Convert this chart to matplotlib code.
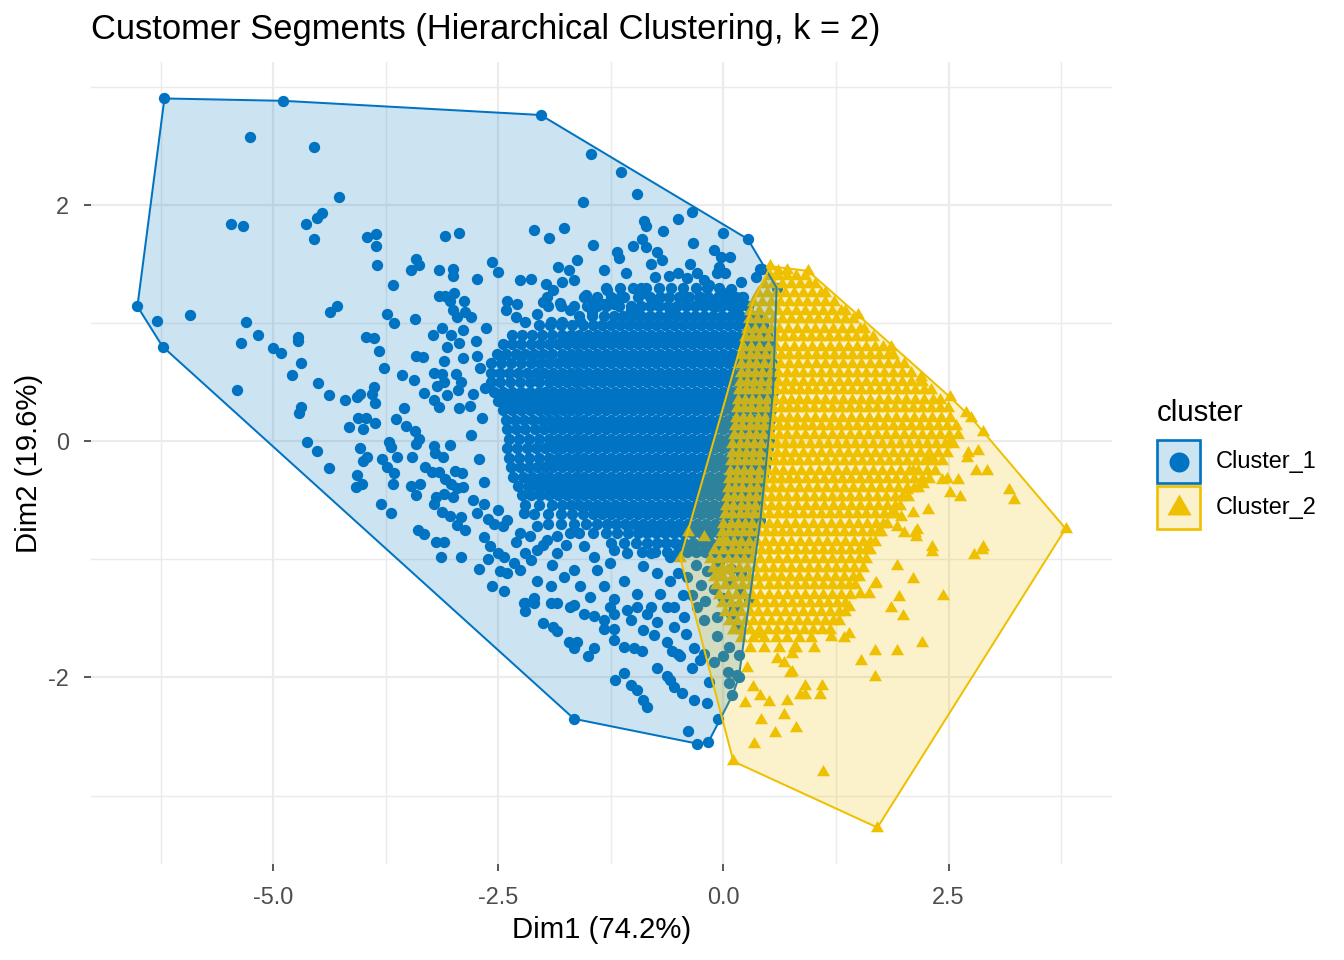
import matplotlib
matplotlib.use("Agg")
import matplotlib.pyplot as plt
from matplotlib.patches import Polygon, Rectangle
from matplotlib.lines import Line2D
from matplotlib.colors import to_rgba

plt.rcParams["font.family"] = ["Liberation Sans", "DejaVu Sans"]

title = "Customer Segments (Hierarchical Clustering, k = 2)"
xlab = "Dim1 (74.2%)"
ylab = "Dim2 (19.6%)"
cluster_names = ["Cluster_1", "Cluster_2"]
colors = ["#0073C2", "#EFC000"]

x_ticks = [-5.0, -2.5, 0.0, 2.5]
x_ticklabels = ["-5.0", "-2.5", "0.0", "2.5"]
y_ticks = [-2, 0, 2]
y_ticklabels = ["-2", "0", "2"]

# cluster 1: single points (x, y)
c1_pts = [
    (-6.21, 2.90), (-4.89, 2.88), (-2.03, 2.76), (0.27, 1.71), (0.43, 1.46), (0.59, 1.30),
    (0.41, -0.67), (0.28, -1.34), (0.17, -2.00), (0.10, -2.15), (-0.06, -2.35), (-0.17, -2.55),
    (-0.29, -2.56), (-1.66, -2.35), (-6.23, 0.80), (-6.51, 1.14),
    # upper left
    (-5.26, 2.57), (-4.55, 2.49), (-4.27, 2.07), (-5.47, 1.84), (-5.34, 1.82), (-4.64, 1.84),
    (-4.52, 1.89), (-4.46, 1.93), (-4.55, 1.71), (-3.96, 1.73), (-3.86, 1.75), (-3.86, 1.65),
    (-3.85, 1.49), (-3.67, 1.32), (-3.41, 1.54), (-3.47, 1.45), (-3.38, 1.49), (-3.09, 1.74),
    (-2.94, 1.76), (-3.16, 1.45), (-3.00, 1.46), (-3.00, 1.40), (-6.29, 1.02), (-5.93, 1.07),
    (-5.30, 1.01), (-5.17, 0.90), (-5.36, 0.83), (-5.00, 0.79), (-4.91, 0.75), (-4.73, 0.88),
    (-4.73, 0.85), (-4.37, 1.09), (-4.29, 1.14), (-3.74, 1.08), (-3.66, 1.00), (-3.43, 1.03),
    (-3.97, 0.88), (-3.88, 0.87), (-3.83, 0.76), (-3.16, 1.23), (-3.09, 1.23), (-2.99, 1.25),
    (-3.04, 1.19), (-2.88, 1.19), (-3.01, 1.11), (-2.96, 1.05), (-2.87, 1.09), (-2.89, 0.94),
    (-3.13, 0.96), (-3.23, 0.90), (-3.03, 0.90), (-3.07, 0.80), (-2.94, 0.83), (-3.42, 0.72),
    (-3.34, 0.71),
    # middle left
    (-5.40, 0.43), (-4.69, 0.66), (-4.79, 0.56), (-4.50, 0.49), (-4.38, 0.39), (-4.69, 0.29),
    (-4.71, 0.24), (-4.20, 0.35), (-4.07, 0.37), (-4.04, 0.40), (-3.90, 0.40), (-3.88, 0.46),
    (-3.87, 0.32), (-3.77, 0.62), (-4.16, 0.12), (-4.06, 0.20), (-3.97, 0.20), (-4.00, 0.10),
    (-3.87, 0.15), (-4.63, -0.01), (-4.51, -0.08), (-4.38, -0.23), (-4.04, -0.06), (-3.96, -0.13),
    (-4.00, -0.17), (-4.07, -0.29), (-4.01, -0.36), (-4.08, -0.39), (-3.80, -0.53), (-3.69, -0.61),
    (-3.79, -0.15), (-3.74, -0.22), (-3.66, -0.27), (-3.67, -0.36), (-3.63, -0.13), (-3.72, -0.01),
    (-3.69, -0.05), (-3.64, 0.19), (-3.55, 0.28), (-3.53, 0.13), (-3.43, 0.09), (-3.57, 0.56),
    (-3.44, 0.52), (-3.33, 0.41), (-3.22, 0.58), (-3.13, 0.57), (-3.18, 0.47), (-3.10, 0.50),
    (-3.22, 0.35), (-3.16, 0.29), (-3.07, 0.39), (-3.10, 0.68), (-2.97, 0.57), (-2.92, 0.50),
    (-2.95, 0.43), (-2.94, 0.28), (-2.89, 0.70), (-3.38, 0.02), (-3.41, -0.02), (-3.46, -0.13),
    (-3.22, -0.04), (-3.20, -0.10), (-3.12, -0.13), (-3.04, -0.03), (-3.32, -0.22), (-3.24, -0.26),
    (-3.16, -0.26), (-3.09, -0.32), (-3.03, -0.36), (-2.96, -0.40), (-2.89, -0.39), (-2.98, -0.25),
    (-2.90, -0.27), (-3.47, -0.38), (-3.37, -0.36), (-3.42, -0.46), (-3.19, -0.47), (-3.11, -0.45),
    (-3.00, -0.47), (-3.22, -0.53), (-3.13, -0.60), (-3.04, -0.63), (-2.92, -0.64), (-2.96, -0.71),
    (-2.87, -0.75), (-3.39, -0.75), (-3.33, -0.79), (-3.19, -0.85), (-3.11, -0.85), (-3.14, -0.98),
    (-2.92, -0.98), (-2.75, 0.85), (-2.70, 0.62), (-2.78, 0.40), (-2.68, 0.20), (-2.80, 0.05),
    (-2.72, -0.15), (-2.66, -0.35), (-2.78, -0.50), (-2.62, -0.66), (-2.74, 0.72), (-2.82, 0.30),
    (-2.65, 0.45),
    # upper middle
    (-1.47, 2.43), (-1.14, 2.28), (-0.96, 2.09), (-1.56, 2.02), (-2.11, 1.79), (-1.94, 1.72),
    (-1.77, 1.80), (-1.45, 1.66), (-0.88, 1.86), (-0.86, 1.82), (-0.67, 1.78), (-0.50, 1.88),
    (-0.35, 1.94), (0.00, 1.76), (-0.34, 1.68), (-0.11, 1.62), (0.07, 1.56), (-0.03, 1.56),
    (-1.01, 1.65), (-0.90, 1.71), (-0.86, 1.64), (-1.18, 1.60), (-1.16, 1.55), (-0.74, 1.60),
    (-0.68, 1.53), (-1.63, 1.53), (-0.80, 1.50), (-0.37, 1.50), (-1.33, 1.45), (-1.08, 1.42),
    (-0.76, 1.39), (-0.61, 1.40), (-0.51, 1.42), (-0.41, 1.38), (-0.29, 1.42), (-0.22, 1.36),
    (-0.16, 1.32), (-0.05, 1.47), (-0.07, 1.42), (0.02, 1.42), (0.19, 1.35), (0.36, 1.39),
    (0.41, 1.46), (-2.57, 1.52), (-2.50, 1.43), (-2.74, 1.37), (-2.26, 1.36), (-2.14, 1.37),
    (-1.84, 1.47), (-1.72, 1.45), (-1.66, 1.36), (-1.97, 1.33), (-1.79, 1.35), (-1.89, 1.28),
    (-1.96, 1.22), (-2.00, 1.18), (-1.82, 1.17), (-2.29, 1.16), (-2.40, 1.19), (-2.42, 1.11),
    (-2.31, 1.05), (-2.07, 1.08), (-1.70, 1.11), (-1.53, 1.24), (-1.46, 1.17), (-1.29, 1.28),
    (-1.14, 1.23), (-1.33, 1.16), (-1.22, 1.16), (-1.46, 1.09), (-1.92, 1.01), (-1.79, 1.01),
    (-1.59, 1.02), (-2.20, 1.01), (-2.64, 0.96), (-2.81, 1.05), (-0.92, 1.30), (-0.89, 1.25),
    (-0.79, 1.19), (-1.03, 1.11), (-0.96, 1.11), (-0.59, 1.11), (-0.44, 1.22), (-0.26, 1.22),
    (-0.14, 1.19), (0.00, 1.25), (0.08, 1.29), (0.21, 1.22), (0.15, 1.11), (-0.07, 1.14),
    # lower middle
    (-2.72, -1.08), (-2.57, -1.23), (-2.44, -1.27), (-2.20, -1.37), (-2.11, -1.33), (-2.66, -0.81),
    (-2.59, -0.89), (-2.44, -0.98), (-2.33, -1.03), (-2.26, -1.09), (-2.40, -1.12), (-2.07, -1.18),
    (-1.92, -1.23), (-1.77, -1.15), (-1.66, -1.09), (-1.59, -1.23), (-1.48, -1.32), (-1.33, -1.23),
    (-1.22, -1.34), (-1.11, -1.18), (-0.96, -1.29), (-0.81, -1.40), (-0.70, -1.29), (-0.59, -1.18),
    (-0.55, -1.40), (-1.70, -1.40), (-1.85, -1.37), (-2.74, -0.61), (-2.66, -0.53), (-2.51, -0.58),
    (-2.40, -0.67), (-2.22, -0.61), (-2.07, -0.72), (-2.26, -0.78), (-1.96, -0.84), (-1.85, -0.95),
    (-1.70, -0.78), (-2.07, -0.92), (-2.14, -1.01), (-1.55, -0.89), (-1.44, -0.98), (-1.40, -1.09),
    (-1.26, -1.03), (-1.22, -0.92), (-1.07, -0.95), (-0.89, -1.06), (-0.81, -0.95), (-0.74, -1.12),
    (-0.59, -0.98), (-0.51, -1.12), (-0.40, -0.92), (-0.30, -1.05), (-0.18, -1.10), (-0.05, -1.02),
    (0.08, -1.08), (0.20, -1.12), (-0.25, -1.22), (-0.10, -1.25), (0.05, -1.20), (0.18, -1.28),
    (-0.35, -1.30), (-0.20, -1.35), (0.00, -1.33), (0.12, -1.40), (-0.40, -1.15), (-0.45, -1.30),
    (-2.45, -0.72), (-2.30, -0.85), (-2.15, -0.80), (-2.00, -0.88), (-1.85, -0.80), (-2.50, -0.95),
    (-1.75, -0.88), (-1.90, -1.05), (-2.20, -0.95), (-2.55, -0.70), (-2.62, -1.00), (-2.48, -1.10),
    # bottom
    (-0.39, -2.45), (0.06, -2.05), (0.15, -1.98), (0.05, -1.95), (0.00, -1.82), (0.17, -1.81),
    (-0.07, -1.65), (0.06, -1.74), (-0.11, -1.87), (-0.16, -2.04), (-0.18, -2.22), (-0.33, -2.19),
    (-0.46, -2.13), (-0.59, -2.02), (-0.55, -2.08), (-0.63, -1.99), (-0.74, -1.92), (-0.89, -2.19),
    (-0.85, -2.25), (-0.96, -2.11), (-1.03, -2.06), (-1.11, -1.96), (-1.21, -2.02), (-0.35, -1.92),
    (-0.26, -1.85), (-0.22, -1.80), (-0.33, -1.75), (-0.51, -1.80), (-0.48, -1.82), (-0.57, -1.78),
    (-0.63, -1.70), (-0.90, -1.78), (-0.99, -1.75), (-1.11, -1.74), (-1.22, -1.68), (-1.22, -1.59),
    (-1.51, -1.82), (-1.44, -1.75), (-1.66, -1.75), (-1.63, -1.70), (-1.72, -1.70), (-1.85, -1.61),
    (-1.89, -1.57), (-2.01, -1.54), (-2.20, -1.44), (-2.11, -1.37), (-1.92, -1.37), (-1.66, -1.39),
    (-1.55, -1.46), (-1.44, -1.48), (-1.33, -1.51), (-1.33, -1.59), (-1.22, -1.46), (-1.26, -1.40),
    (-1.07, -1.43), (-0.96, -1.40), (-1.03, -1.51), (-0.85, -1.46), (-0.89, -1.60), (-0.77, -1.64),
    (-0.74, -1.53), (-0.63, -1.40), (-0.55, -1.57), (-0.44, -1.49), (-0.42, -1.63), (-0.29, -1.40),
    (-0.22, -1.51), (-0.07, -1.49), (0.08, -1.46), (0.15, -1.57), (-2.22, -1.37),
]

# cluster 1: dense core, one row per y value
c1_rows = [
    (1.30, [-1.30, -1.15, -1.00, -0.86, -0.72, -0.58, -0.45, -0.31, -0.18, -0.05]),
    (1.22, [-1.55, -1.40, -1.25, -1.10, -0.95, -0.82, -0.70, -0.60, -0.49, -0.38, -0.27, -0.17,
            -0.06, 0.04, 0.14, 0.22]),
    (1.14, [-1.95, -1.80, -1.66, -1.52, -1.41, -1.30, -1.16, -1.03, -0.92, -0.82, -0.72, -0.62,
            -0.52, -0.42, -0.32, -0.22, -0.12, -0.02, 0.08, 0.18, 0.27]),
    (1.06, [-1.60, -1.46, -1.33, -1.22, -1.12, -1.02, -0.92, -0.82, -0.72, -0.62, -0.52, -0.42,
            -0.32, -0.22, -0.12, -0.02, 0.08, 0.18, 0.28, 0.37]),
    (0.98, [-2.05, -1.93, -1.81, -1.68, -1.56, -1.45, -1.35, -1.25, -1.15, -1.05, -0.95, -0.85,
            -0.75, -0.65, -0.55, -0.45, -0.35, -0.25, -0.15, -0.05, 0.05, 0.15, 0.25, 0.35, 0.44]),
    (0.90, [-2.35, -2.24, -2.13, -2.02, -1.91, -1.79, -1.69, -1.60, -1.50, -1.40, -1.30, -1.20,
            -1.10, -1.00, -0.90, -0.80, -0.70, -0.60, -0.50, -0.40, -0.30, -0.20, -0.10, 0.00,
            0.10, 0.20, 0.30, 0.40, 0.48]),
    (0.82, [-2.45, -2.35, -2.25, -2.14, -2.04, -1.94, -1.84, -1.74, -1.64, -1.55, -1.45, -1.35,
            -1.25, -1.15, -1.05, -0.95, -0.85, -0.75, -0.65, -0.55, -0.45, -0.35, -0.25, -0.15,
            -0.05, 0.05, 0.15, 0.25, 0.35, 0.44, 0.51]),
    (0.74, [-2.52, -2.42, -2.31, -2.20, -2.10, -2.00, -1.90, -1.79, -1.69, -1.60, -1.50, -1.40,
            -1.30, -1.20, -1.10, -1.00, -0.90, -0.80, -0.70, -0.60, -0.50, -0.40, -0.30, -0.20,
            -0.10, 0.00, 0.10, 0.20, 0.30, 0.40, 0.48, 0.53]),
    (0.66, [-2.58, -2.47, -2.36, -2.25, -2.14, -2.04, -1.94, -1.84, -1.74, -1.64, -1.55, -1.45,
            -1.35, -1.25, -1.15, -1.05, -0.95, -0.85, -0.75, -0.65, -0.55, -0.45, -0.35, -0.25,
            -0.15, -0.05, 0.05, 0.15, 0.25, 0.35, 0.45, 0.54]),
    (0.58, [-2.58, -2.48, -2.38, -2.28, -2.18, -2.08, -1.99, -1.89, -1.79, -1.69, -1.60, -1.50,
            -1.40, -1.30, -1.20, -1.10, -1.00, -0.90, -0.80, -0.70, -0.60, -0.50, -0.40, -0.30,
            -0.20, -0.10, 0.00, 0.10, 0.20, 0.30, 0.40, 0.49, 0.55]),
    (0.50, [-2.58, -2.48, -2.37, -2.26, -2.15, -2.05, -1.94, -1.84, -1.74, -1.64, -1.55, -1.45,
            -1.35, -1.25, -1.15, -1.05, -0.95, -0.85, -0.75, -0.65, -0.55, -0.45, -0.35, -0.25,
            -0.15, -0.05, 0.05, 0.15, 0.25, 0.35, 0.45, 0.55]),
    (0.42, [-2.55, -2.45, -2.35, -2.25, -2.15, -2.05, -1.98, -1.89, -1.79, -1.69, -1.60, -1.50,
            -1.40, -1.30, -1.20, -1.10, -1.00, -0.90, -0.80, -0.70, -0.60, -0.50, -0.40, -0.30,
            -0.20, -0.10, 0.00, 0.10, 0.20, 0.30, 0.40, 0.49, 0.55]),
    (0.34, [-2.50, -2.40, -2.30, -2.20, -2.10, -2.01, -1.93, -1.84, -1.74, -1.64, -1.55, -1.45,
            -1.35, -1.25, -1.15, -1.05, -0.95, -0.85, -0.75, -0.65, -0.55, -0.45, -0.35, -0.25,
            -0.15, -0.05, 0.05, 0.15, 0.25, 0.35, 0.45, 0.54]),
    (0.26, [-2.45, -2.35, -2.25, -2.15, -2.05, -1.96, -1.87, -1.78, -1.69, -1.60, -1.50, -1.40,
            -1.30, -1.20, -1.10, -1.00, -0.90, -0.80, -0.70, -0.60, -0.50, -0.40, -0.30, -0.20,
            -0.10, 0.00, 0.10, 0.20, 0.30, 0.40, 0.48, 0.53]),
    (0.18, [-2.42, -2.32, -2.22, -2.12, -2.02, -1.93, -1.84, -1.74, -1.64, -1.55, -1.45, -1.35,
            -1.25, -1.15, -1.05, -0.95, -0.85, -0.75, -0.65, -0.55, -0.45, -0.35, -0.25, -0.15,
            -0.05, 0.05, 0.15, 0.25, 0.35, 0.44, 0.52]),
    (0.10, [-2.40, -2.30, -2.20, -2.09, -1.99, -1.89, -1.79, -1.69, -1.60, -1.50, -1.40, -1.30,
            -1.20, -1.10, -1.00, -0.90, -0.80, -0.70, -0.60, -0.50, -0.40, -0.30, -0.20, -0.10,
            0.00, 0.10, 0.20, 0.30, 0.40, 0.48, 0.51]),
    (0.02, [-2.38, -2.27, -2.16, -2.05, -1.94, -1.84, -1.74, -1.64, -1.55, -1.45, -1.35, -1.25,
            -1.15, -1.05, -0.95, -0.85, -0.75, -0.65, -0.55, -0.45, -0.35, -0.25, -0.15, -0.05,
            0.05, 0.15, 0.25, 0.35, 0.44, 0.50]),
    (-0.06, [-2.40, -2.29, -2.18, -2.08, -1.98, -1.88, -1.79, -1.69, -1.60, -1.50, -1.40, -1.30,
             -1.20, -1.10, -1.00, -0.90, -0.80, -0.70, -0.60, -0.50, -0.40, -0.30, -0.20, -0.10,
             0.00, 0.10, 0.20, 0.30, 0.40, 0.49]),
    (-0.14, [-2.38, -2.27, -2.16, -2.05, -1.94, -1.84, -1.74, -1.64, -1.55, -1.45, -1.35, -1.25,
             -1.15, -1.05, -0.95, -0.85, -0.75, -0.65, -0.55, -0.45, -0.35, -0.25, -0.15, -0.05,
             0.05, 0.15, 0.25, 0.35, 0.43, 0.47]),
    (-0.22, [-2.36, -2.26, -2.16, -2.07, -1.98, -1.89, -1.79, -1.69, -1.60, -1.50, -1.40, -1.30,
             -1.20, -1.10, -1.00, -0.90, -0.80, -0.70, -0.60, -0.50, -0.40, -0.30, -0.20, -0.10,
             0.00, 0.10, 0.20, 0.30, 0.39, 0.46]),
    (-0.30, [-2.34, -2.23, -2.13, -2.03, -1.94, -1.84, -1.74, -1.64, -1.55, -1.45, -1.35, -1.25,
             -1.15, -1.05, -0.95, -0.85, -0.75, -0.65, -0.55, -0.45, -0.35, -0.25, -0.15, -0.05,
             0.05, 0.15, 0.25, 0.35, 0.44]),
    (-0.38, [-2.28, -2.17, -2.07, -1.97, -1.88, -1.79, -1.69, -1.60, -1.50, -1.40, -1.30, -1.20,
             -1.10, -1.00, -0.90, -0.80, -0.70, -0.60, -0.50, -0.40, -0.30, -0.20, -0.10, 0.00,
             0.10, 0.20, 0.30, 0.38, 0.42]),
    (-0.46, [-2.24, -2.14, -2.04, -1.94, -1.84, -1.74, -1.64, -1.55, -1.45, -1.35, -1.25, -1.15,
             -1.05, -0.95, -0.85, -0.75, -0.65, -0.55, -0.45, -0.35, -0.25, -0.15, -0.05, 0.05,
             0.15, 0.25, 0.34, 0.40]),
    (-0.54, [-2.20, -2.05, -1.91, -1.79, -1.69, -1.60, -1.50, -1.40, -1.30, -1.20, -1.10, -1.00,
             -0.90, -0.80, -0.70, -0.60, -0.50, -0.40, -0.30, -0.20, -0.10, 0.00, 0.10, 0.20,
             0.29, 0.38]),
    (-0.62, [-2.10, -1.95, -1.81, -1.68, -1.56, -1.45, -1.35, -1.25, -1.15, -1.05, -0.95, -0.85,
             -0.75, -0.65, -0.55, -0.45, -0.35, -0.25, -0.15, -0.05, 0.05, 0.15, 0.25, 0.36]),
    (-0.70, [-1.95, -1.80, -1.66, -1.53, -1.40, -1.29, -1.19, -1.09, -0.99, -0.89, -0.79, -0.69,
             -0.59, -0.49, -0.39, -0.29, -0.19, -0.09, 0.01, 0.11, 0.21, 0.30, 0.34]),
    (-0.78, [-1.60, -1.45, -1.31, -1.18, -1.06, -0.95, -0.85, -0.75, -0.65, -0.55, -0.45, -0.35,
             -0.25, -0.15, -0.05, 0.05, 0.15, 0.24, 0.32]),
    (-0.86, [-1.25, -1.10, -0.97, -0.85, -0.74, -0.64, -0.54, -0.44, -0.34, -0.24, -0.14, -0.04,
             0.06, 0.16, 0.25, 0.30]),
    (-0.94, [-0.90, -0.76, -0.63, -0.51, -0.40, -0.30, -0.20, -0.10, 0.00, 0.10, 0.19, 0.27]),
]

# cluster 2: single points
c2_pts = [
    (0.52, 1.48), (0.94, 1.44), (0.60, 1.44), (0.70, 1.45), (2.88, 0.08), (3.80, -0.74),
    (1.71, -3.27), (0.11, -2.71), (-0.48, -0.99),
    (1.49, 1.07), (1.86, 0.80), (2.19, 0.54), (2.52, 0.37), (2.69, 0.24), (2.75, 0.20),
    (2.72, -0.10), (2.71, -0.14), (2.83, -0.08), (2.80, -0.25), (2.93, -0.25), (2.60, -0.33),
    (2.43, -0.33), (2.52, -0.44), (2.63, -0.47), (3.17, -0.41), (3.23, -0.50), (2.22, -0.36),
    (2.27, -0.58), (2.11, -0.61), (1.97, -0.64), (2.13, -0.78), (2.32, -0.90), (2.88, -0.90),
    (2.04, -0.41), (1.93, -0.73), (2.32, -0.94), (2.78, -0.96), (2.87, -0.92), (2.14, -0.81),
    (1.93, -1.06), (2.11, -1.17), (2.44, -1.31), (1.95, -1.32), (1.86, -1.41), (1.99, -1.48),
    (1.68, -1.21), (1.62, -1.29), (2.20, -1.71), (1.68, -1.78), (1.93, -1.78), (1.53, -1.86),
    (1.68, -2.00), (0.91, -2.07), (1.09, -2.07), (0.91, -2.15), (1.07, -2.15), (0.71, -2.20),
    (0.67, -2.32), (0.81, -2.43), (1.10, -2.80), (1.39, -1.40), (1.39, -1.63), (1.34, -1.67),
    (1.19, -1.66), (1.00, -1.75), (0.78, -1.75), (0.76, -1.95), (0.67, -1.88), (1.52, -1.29),
    (0.26, -1.92), (0.33, -2.08), (0.41, -2.16), (0.50, -2.21), (0.24, -2.22), (0.42, -2.36),
    (0.57, -2.47), (0.34, -2.56), (0.59, -1.84), (0.76, -1.80), (0.37, -1.63), (0.11, -1.60),
    (1.69, -1.20), (2.15, -0.75), (2.00, -0.78), (2.11, -0.25), (2.26, -0.13), (2.48, -0.32),
    (2.52, -0.01), (2.30, 0.05), (0.74, -1.96), (0.85, -2.15), (-0.39, -0.77), (-0.22, -0.81),
    (0.00, -0.84), (-0.06, -1.12), (0.04, -1.09),
]

# cluster 2: dense core, one row per y value
c2_rows = [
    (1.40, [0.52, 0.61, 0.70, 0.80, 0.90]),
    (1.33, [0.45, 0.55, 0.65, 0.75, 0.85, 0.95, 1.02]),
    (1.25, [0.38, 0.48, 0.58, 0.68, 0.78, 0.88, 0.98, 1.08, 1.13]),
    (1.18, [0.33, 0.43, 0.53, 0.63, 0.73, 0.83, 0.93, 1.03, 1.13, 1.23]),
    (1.10, [0.30, 0.40, 0.50, 0.60, 0.70, 0.80, 0.90, 1.00, 1.10, 1.20, 1.30, 1.35]),
    (1.03, [0.28, 0.37, 0.46, 0.55, 0.65, 0.75, 0.85, 0.95, 1.05, 1.15, 1.25, 1.35, 1.44]),
    (0.95, [0.26, 0.35, 0.44, 0.53, 0.62, 0.72, 0.82, 0.92, 1.02, 1.12, 1.22, 1.32, 1.42, 1.52,
            1.56]),
    (0.88, [0.24, 0.32, 0.40, 0.49, 0.58, 0.67, 0.77, 0.87, 0.97, 1.07, 1.17, 1.27, 1.37, 1.47,
            1.57, 1.66]),
    (0.80, [0.22, 0.31, 0.40, 0.49, 0.58, 0.68, 0.78, 0.88, 0.98, 1.08, 1.18, 1.28, 1.38, 1.48,
            1.58, 1.68, 1.77]),
    (0.73, [0.21, 0.29, 0.37, 0.46, 0.55, 0.64, 0.73, 0.83, 0.93, 1.03, 1.13, 1.23, 1.33, 1.43,
            1.53, 1.63, 1.73, 1.83, 1.88]),
    (0.65, [0.20, 0.28, 0.36, 0.45, 0.54, 0.63, 0.73, 0.83, 0.93, 1.03, 1.13, 1.23, 1.33, 1.43,
            1.53, 1.63, 1.73, 1.83, 1.93, 2.00]),
    (0.58, [0.19, 0.27, 0.35, 0.43, 0.52, 0.61, 0.70, 0.79, 0.88, 0.98, 1.08, 1.18, 1.28, 1.38,
            1.48, 1.58, 1.68, 1.78, 1.88, 1.98, 2.08]),
    (0.50, [0.18, 0.26, 0.34, 0.42, 0.51, 0.60, 0.69, 0.78, 0.88, 0.98, 1.08, 1.18, 1.28, 1.38,
            1.48, 1.58, 1.68, 1.78, 1.88, 1.98, 2.08, 2.18, 2.21]),
    (0.43, [0.17, 0.25, 0.33, 0.41, 0.49, 0.58, 0.67, 0.76, 0.85, 0.94, 1.03, 1.13, 1.23, 1.33,
            1.43, 1.53, 1.63, 1.73, 1.83, 1.93, 2.03, 2.13, 2.23, 2.30]),
    (0.35, [0.16, 0.24, 0.32, 0.40, 0.48, 0.57, 0.66, 0.75, 0.84, 0.93, 1.03, 1.13, 1.23, 1.33,
            1.43, 1.53, 1.63, 1.73, 1.83, 1.93, 2.03, 2.13, 2.23, 2.33, 2.41]),
    (0.28, [0.15, 0.23, 0.31, 0.39, 0.47, 0.55, 0.64, 0.73, 0.82, 0.91, 1.00, 1.10, 1.20, 1.30,
            1.40, 1.50, 1.60, 1.70, 1.80, 1.90, 2.00, 2.10, 2.20, 2.30, 2.40, 2.49]),
    (0.20, [0.14, 0.22, 0.30, 0.38, 0.46, 0.55, 0.64, 0.73, 0.82, 0.92, 1.02, 1.12, 1.22, 1.32,
            1.42, 1.52, 1.62, 1.72, 1.82, 1.92, 2.02, 2.12, 2.22, 2.32, 2.42, 2.52]),
    (0.13, [0.13, 0.21, 0.29, 0.37, 0.45, 0.53, 0.62, 0.71, 0.80, 0.89, 0.98, 1.08, 1.18, 1.28,
            1.38, 1.48, 1.58, 1.68, 1.78, 1.88, 1.98, 2.08, 2.18, 2.28, 2.38, 2.48, 2.58]),
    (0.05, [0.12, 0.20, 0.28, 0.36, 0.44, 0.53, 0.62, 0.71, 0.81, 0.91, 1.01, 1.11, 1.21, 1.31,
            1.41, 1.51, 1.61, 1.71, 1.81, 1.91, 2.01, 2.11, 2.21, 2.31, 2.41, 2.51, 2.60]),
    (-0.02, [0.10, 0.18, 0.26, 0.34, 0.42, 0.50, 0.59, 0.68, 0.77, 0.86, 0.96, 1.06, 1.16, 1.26,
             1.36, 1.46, 1.56, 1.66, 1.76, 1.86, 1.96, 2.06, 2.16, 2.26, 2.36, 2.46, 2.55]),
    (-0.10, [0.09, 0.17, 0.25, 0.33, 0.41, 0.50, 0.59, 0.68, 0.78, 0.88, 0.98, 1.08, 1.18, 1.28,
             1.38, 1.48, 1.58, 1.68, 1.78, 1.88, 1.98, 2.08, 2.18, 2.28, 2.38, 2.48]),
    (-0.17, [0.08, 0.16, 0.24, 0.32, 0.40, 0.48, 0.57, 0.66, 0.75, 0.84, 0.94, 1.04, 1.14, 1.24,
             1.34, 1.44, 1.54, 1.64, 1.74, 1.84, 1.94, 2.04, 2.14, 2.24, 2.34, 2.43]),
    (-0.25, [0.07, 0.15, 0.23, 0.31, 0.39, 0.48, 0.57, 0.66, 0.76, 0.86, 0.96, 1.06, 1.16, 1.26,
             1.36, 1.46, 1.56, 1.66, 1.76, 1.86, 1.96, 2.06, 2.16, 2.26, 2.35]),
    (-0.32, [0.06, 0.14, 0.22, 0.30, 0.38, 0.46, 0.55, 0.64, 0.73, 0.82, 0.92, 1.02, 1.12, 1.22,
             1.32, 1.42, 1.52, 1.62, 1.72, 1.82, 1.92, 2.02, 2.12, 2.21, 2.28]),
    (-0.40, [0.05, 0.13, 0.21, 0.29, 0.37, 0.46, 0.55, 0.64, 0.74, 0.84, 0.94, 1.04, 1.14, 1.24,
             1.34, 1.44, 1.54, 1.64, 1.74, 1.84, 1.94, 2.04, 2.12, 2.16]),
    (-0.47, [0.04, 0.12, 0.20, 0.28, 0.36, 0.44, 0.53, 0.62, 0.71, 0.80, 0.90, 1.00, 1.10, 1.20,
             1.30, 1.40, 1.50, 1.60, 1.70, 1.80, 1.90, 1.98, 2.05]),
    (-0.55, [0.03, 0.11, 0.19, 0.27, 0.35, 0.44, 0.53, 0.62, 0.72, 0.82, 0.92, 1.02, 1.12, 1.22,
             1.32, 1.42, 1.52, 1.62, 1.72, 1.82, 1.90, 1.96]),
    (-0.62, [0.02, 0.10, 0.18, 0.26, 0.34, 0.42, 0.51, 0.60, 0.69, 0.78, 0.88, 0.98, 1.08, 1.18,
             1.28, 1.38, 1.48, 1.58, 1.68, 1.78, 1.86, 1.90]),
    (-0.70, [0.00, 0.08, 0.16, 0.24, 0.32, 0.41, 0.50, 0.59, 0.69, 0.79, 0.89, 0.99, 1.09, 1.19,
             1.29, 1.39, 1.49, 1.59, 1.69, 1.77, 1.82]),
    (-0.77, [-0.02, 0.06, 0.14, 0.22, 0.30, 0.38, 0.47, 0.56, 0.65, 0.74, 0.84, 0.94, 1.04, 1.14,
             1.24, 1.34, 1.44, 1.54, 1.64, 1.72, 1.75]),
    (-0.85, [-0.05, 0.04, 0.12, 0.20, 0.28, 0.37, 0.46, 0.55, 0.65, 0.75, 0.85, 0.95, 1.05, 1.15,
             1.25, 1.35, 1.45, 1.55, 1.63, 1.68]),
    (-0.92, [-0.10, 0.00, 0.09, 0.17, 0.25, 0.33, 0.42, 0.51, 0.60, 0.70, 0.80, 0.90, 1.00, 1.10,
             1.20, 1.30, 1.40, 1.50, 1.58, 1.63]),
    (-1.00, [-0.15, -0.05, 0.05, 0.14, 0.23, 0.32, 0.41, 0.50, 0.60, 0.70, 0.80, 0.90, 1.00, 1.10,
             1.20, 1.30, 1.40, 1.50, 1.58]),
    (-1.07, [-0.12, -0.02, 0.08, 0.17, 0.26, 0.35, 0.45, 0.55, 0.65, 0.75, 0.85, 0.95, 1.05, 1.15,
             1.25, 1.35, 1.45, 1.55]),
    (-1.15, [-0.10, 0.00, 0.10, 0.19, 0.28, 0.37, 0.46, 0.55, 0.64, 0.74, 0.84, 0.94, 1.04, 1.14,
             1.24, 1.34, 1.44, 1.50]),
    (-1.22, [-0.08, 0.02, 0.12, 0.21, 0.30, 0.40, 0.50, 0.60, 0.70, 0.80, 0.90, 1.00, 1.10, 1.20,
             1.30, 1.39, 1.46]),
    (-1.30, [-0.05, 0.05, 0.14, 0.23, 0.32, 0.41, 0.51, 0.61, 0.71, 0.81, 0.91, 1.01, 1.11, 1.21,
             1.31, 1.41]),
    (-1.37, [-0.02, 0.08, 0.17, 0.26, 0.36, 0.46, 0.56, 0.66, 0.76, 0.86, 0.96, 1.06, 1.16, 1.26,
             1.35]),
    (-1.45, [0.02, 0.11, 0.20, 0.29, 0.38, 0.48, 0.58, 0.68, 0.78, 0.88, 0.98, 1.08, 1.18, 1.28,
             1.35]),
    (-1.52, [0.06, 0.15, 0.24, 0.33, 0.43, 0.53, 0.63, 0.73, 0.83, 0.93, 1.03, 1.13, 1.22, 1.28]),
    (-1.60, [0.12, 0.21, 0.30, 0.39, 0.49, 0.59, 0.69, 0.79, 0.89, 0.99, 1.09, 1.18]),
    (-1.67, [0.20, 0.33, 0.45, 0.58, 0.71, 0.84, 0.97]),
    (-1.75, [0.30, 0.45, 0.62, 0.80]),
]


def collect(pts, rows):
    xs = [p[0] for p in pts]
    ys = [p[1] for p in pts]
    for y, row in rows:
        xs += row
        ys += [y] * len(row)
    return xs, ys


def convex_hull(xs, ys):
    pts = sorted(set(zip(xs, ys)))

    def cross(o, a, b):
        return (a[0] - o[0]) * (b[1] - o[1]) - (a[1] - o[1]) * (b[0] - o[0])

    lower, upper = [], []
    for p in pts:
        while len(lower) >= 2 and cross(lower[-2], lower[-1], p) <= 0:
            lower.pop()
        lower.append(p)
    for p in reversed(pts):
        while len(upper) >= 2 and cross(upper[-2], upper[-1], p) <= 0:
            upper.pop()
        upper.append(p)
    return lower[:-1] + upper[:-1]


x1, y1 = collect(c1_pts, c1_rows)
x2, y2 = collect(c2_pts, c2_rows)

# equilateral triangle like ggplot shape 17
tri = [(-1.0, -0.577), (1.0, -0.577), (0.0, 1.155)]

W, H = 1344, 960
fig = plt.figure(figsize=(7, 5), dpi=192)
ax = fig.add_axes([91 / W, 1 - 864 / H, (1112 - 91) / W, (864 - 62) / H])

# points first, hulls on top (like fviz_cluster)
ax.scatter(x1, y1, s=18, c=colors[0], marker="o", linewidths=0, zorder=2)
ax.scatter(x2, y2, s=32, c=colors[1], marker=tri, linewidths=0, zorder=2)

for (xs, ys), col in zip([(x1, y1), (x2, y2)], colors):
    h = convex_hull(xs, ys)
    ax.add_patch(Polygon(h, closed=True, facecolor=to_rgba(col, 0.2),
                         edgecolor=col, linewidth=0.75, zorder=3))

# limits with 5% padding like ggplot
allx = x1 + x2
ally = y1 + y2
px = 0.05 * (max(allx) - min(allx))
py = 0.05 * (max(ally) - min(ally))
ax.set_xlim(min(allx) - px, max(allx) + px)
ax.set_ylim(min(ally) - py, max(ally) + py)

ax.set_xticks(x_ticks)
ax.set_xticklabels(x_ticklabels)
ax.set_yticks(y_ticks)
ax.set_yticklabels(y_ticklabels)
ax.set_xticks([-6.25, -3.75, -1.25, 1.25, 3.75], minor=True)
ax.set_yticks([-3, -1, 1, 3], minor=True)
ax.set_axisbelow(True)
ax.grid(which="major", color="#EBEBEB", linewidth=0.8)
ax.grid(which="minor", color="#EBEBEB", linewidth=0.55)
ax.tick_params(which="major", length=2.75, width=0.6, color="#333333",
               labelsize=8.8, labelcolor="#4D4D4D", pad=5.5)
ax.tick_params(which="minor", length=0)
for sp in ax.spines.values():
    sp.set_visible(False)

fig.text(91 / W, 1 - 30 / H, title, fontsize=12.95, ha="left", va="center")
fig.text(601.5 / W, 1 - 930 / H, xlab, fontsize=11, ha="center", va="center")
fig.text(29 / W, 1 - 463 / H, ylab, fontsize=11, ha="center", va="center", rotation=90)

# legend drawn by hand
fig.text(1157 / W, 1 - 413 / H, "cluster", fontsize=11, ha="left", va="center")
markers = ["o", tri]
msizes = [7.5, 10.5]
for i, name in enumerate(cluster_names):
    top = 440 + i * 46
    fig.add_artist(Rectangle((1157 / W, 1 - (top + 43) / H), 43 / W, 43 / H,
                             transform=fig.transFigure, facecolor=to_rgba(colors[i], 0.2),
                             edgecolor=colors[i], linewidth=1.0))
    fig.add_artist(Line2D([1178.5 / W], [1 - (top + 21.5) / H], transform=fig.transFigure,
                          marker=markers[i], markersize=msizes[i], color=colors[i],
                          markeredgewidth=0, linestyle="none"))
    fig.text(1216 / W, 1 - (top + 21.5) / H, name, fontsize=8.8, ha="left", va="center")

fig.savefig("out.png", dpi=192)
